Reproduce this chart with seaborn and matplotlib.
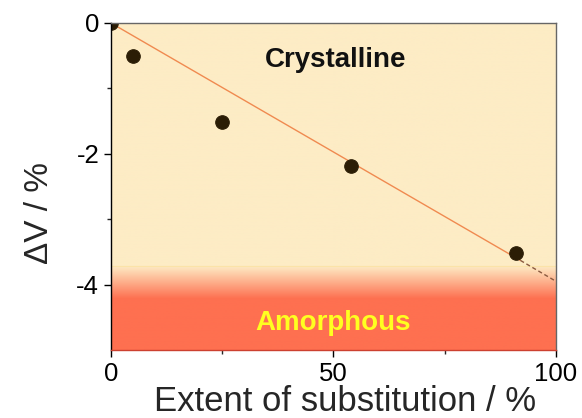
import numpy as np
import pandas as pd
import matplotlib
matplotlib.use("Agg")
import matplotlib.pyplot as plt
import seaborn as sns

sns.set_theme(style="ticks")
plt.rcParams['font.family'] = ['Liberation Sans', 'DejaVu Sans']
plt.rcParams['axes.unicode_minus'] = False

substitution = [0, 5, 25, 54, 91]
delta_v = [0.0, -0.51, -1.52, -2.18, -3.51]
fit_x = [0, 92, 100]
fit_y = [0.0, -3.63, -3.95]
x_ticks = [0, 50, 100]
y_ticks = [0, -2, -4]

df = pd.DataFrame({"x": substitution, "y": delta_v})

fig = plt.figure(figsize=(5.82, 4.18), dpi=100)
ax = fig.add_axes([0.1907, 0.1627, 0.7646, 0.7823])

# background gradient
cryst = np.array([253, 236, 197]) / 255
amor = np.array([254, 112, 80]) / 255
yy = np.linspace(0, -5, 500)
t = np.clip((-3.72 - yy) / 0.5, 0, 1)
cols = np.outer(1 - t, cryst) + np.outer(t, amor)
img = cols[:, None, :]
ax.imshow(img, extent=[0, 100, -5, 0], aspect='auto', origin='upper', zorder=0)
ax.axhline(-3.71, color='#fbe3a8', lw=0.8, zorder=1)

ax.plot(fit_x[:2], fit_y[:2], color='#f08a50', lw=1.0, zorder=2)
ax.plot(fit_x[1:], fit_y[1:], color='#8a5a40', lw=1.0, ls=(0, (3, 2)), zorder=2)

sns.scatterplot(data=df, x="x", y="y", ax=ax, s=95, color='#2b1d05',
                edgecolor='#2b1d05', zorder=3, legend=False)

ax.text(50.5, -0.57, "Crystalline", ha='center', va='center', fontsize=20,
        fontweight='bold', color='#111111')
ax.text(50, -4.58, "Amorphous", ha='center', va='center', fontsize=20,
        fontweight='bold', color='#ffff20')

ax.set_xlim(0, 100)
ax.set_ylim(-5, 0)
ax.set_xticks(x_ticks)
ax.set_yticks(y_ticks)
ax.set_xticks([25, 75], minor=True)
ax.set_yticks([-1, -3], minor=True)
ax.tick_params(axis='both', which='major', direction='out', length=5, width=1,
               labelsize=18.5, colors='black')
ax.tick_params(axis='both', which='minor', direction='out', length=3, width=1)
ax.set_xlabel("Extent of substitution / %", fontsize=25)
ax.set_ylabel("ΔV / %", fontsize=24)
ax.xaxis.set_label_coords(0.526, -0.108)
ax.yaxis.set_label_coords(-0.125, 0.42)

ax.spines['left'].set_color('black')
ax.spines['top'].set_color('#666666')
ax.spines['right'].set_color('#666666')
ax.spines['bottom'].set_color('#cc4030')
for s in ax.spines.values():
    s.set_linewidth(1.0)
    s.set_zorder(5)

fig.savefig("out.png", dpi=100)
